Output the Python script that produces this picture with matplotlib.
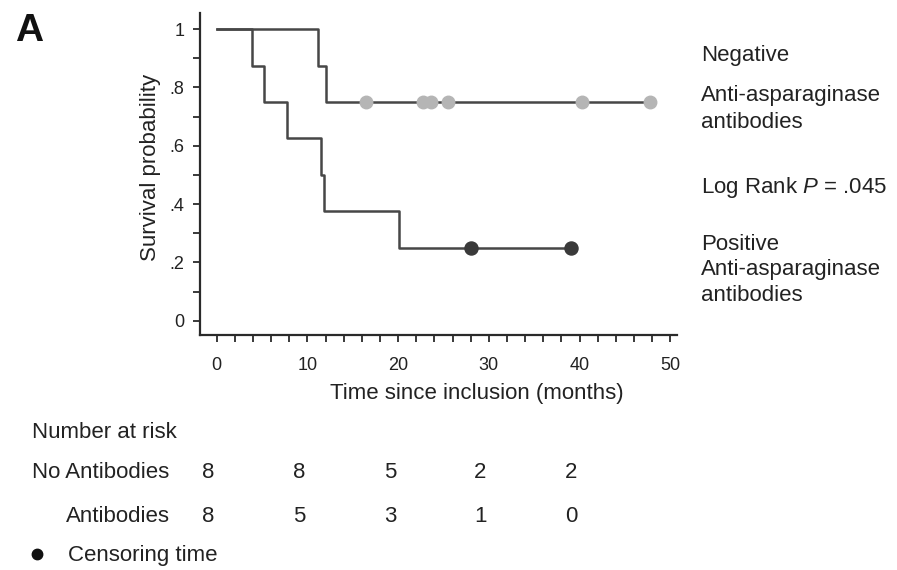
import matplotlib
matplotlib.use("Agg")
import matplotlib.pyplot as plt
import matplotlib.transforms as mtransforms
from matplotlib.ticker import MultipleLocator, FixedLocator

plt.rcParams["font.family"] = ["Liberation Sans", "DejaVu Sans"]
plt.rcParams["mathtext.fontset"] = "custom"
plt.rcParams["mathtext.rm"] = "Liberation Sans"
plt.rcParams["mathtext.it"] = "Liberation Sans:italic"

# Kaplan-Meier step data (months, survival probability)
neg_times = [0, 11.2, 12.1]
neg_surv = [1.0, 0.875, 0.75]
neg_end = 47.8
neg_censor_times = [16.5, 22.7, 23.6, 25.5, 40.3, 47.8]

pos_times = [0, 3.85, 5.2, 7.8, 11.5, 11.8, 20.1]
pos_surv = [1.0, 0.875, 0.75, 0.625, 0.5, 0.375, 0.25]
pos_end = 39.0
pos_censor_times = [28.0, 39.0]

# Number-at-risk table
risk_times = [0, 10, 20, 30, 40]
risk_no_antibodies = [8, 8, 5, 2, 2]
risk_antibodies = [8, 5, 3, 1, 0]

y_ticks = [0, 0.2, 0.4, 0.6, 0.8, 1.0]
y_ticklabels = ["0", ".2", ".4", ".6", ".8", "1"]
x_ticks = [0, 10, 20, 30, 40, 50]

W, H = 897, 570
fig = plt.figure(figsize=(W / 100, H / 100), dpi=100)
ax = fig.add_axes([200 / W, 1 - 335 / H, (676.7 - 200) / W, (335 - 13.3) / H])

line_col = "#474747"
txt_col = "#222222"


def step_xy(times, surv, end):
    xs = list(times) + [end]
    ys = list(surv) + [surv[-1]]
    return xs, ys


xs, ys = step_xy(neg_times, neg_surv, neg_end)
ax.step(xs, ys, where="post", color=line_col, lw=1.8, zorder=2)
ax.plot(neg_censor_times, [neg_surv[-1]] * len(neg_censor_times), "o",
        ms=9, color="#b5b5b5", mec="#b5b5b5", zorder=3)

xs, ys = step_xy(pos_times, pos_surv, pos_end)
ax.step(xs, ys, where="post", color=line_col, lw=1.8, zorder=2)
ax.plot(pos_censor_times, [pos_surv[-1]] * len(pos_censor_times), "o",
        ms=9.4, color="#3a3a3a", mec="#3a3a3a", zorder=3)

ax.set_xlim(-1.84, 50.7)
ax.set_ylim(-0.049, 1.054)
for s in ("top", "right"):
    ax.spines[s].set_visible(False)
for s in ("left", "bottom"):
    ax.spines[s].set_linewidth(1.6)
    ax.spines[s].set_color("#2a2a2a")

ax.xaxis.set_major_locator(FixedLocator(x_ticks))
ax.xaxis.set_minor_locator(MultipleLocator(2))
ax.yaxis.set_major_locator(FixedLocator(y_ticks))
ax.yaxis.set_minor_locator(MultipleLocator(0.1))
ax.set_yticklabels(y_ticklabels)
ax.tick_params(axis="both", which="both", direction="out", length=5,
               width=1.3, color="#2a2a2a", labelcolor=txt_col, labelsize=13)
ax.tick_params(axis="x", which="major", pad=11)
ax.tick_params(axis="y", which="major", pad=6)

fs = 16
fig.text(477 / W, 1 - 394 / H, "Time since inclusion (months)", ha="center",
         va="center", fontsize=fs, color=txt_col)
fig.text(150.7 / W, 1 - 167 / H, "Survival probability", rotation=90,
         ha="center", va="center", fontsize=fs, color=txt_col)
fig.text(29 / W, 1 - 31 / H, "A", ha="center", va="center", fontsize=28,
         fontweight="bold", color="#111111")

# Group annotations on the right
right_x = 701 / W
right_lines = [
    (55, "Negative"),
    (96, "Anti-asparaginase"),
    (123, "antibodies"),
    (188, "Log Rank $P$ = .045"),
    (245, "Positive"),
    (270, "Anti-asparaginase"),
    (296, "antibodies"),
]
for yy, t in right_lines:
    fig.text(right_x, 1 - yy / H, t, ha="left", va="center", fontsize=fs,
             color=txt_col)

# Number at risk table
fig.text(31.7 / W, 1 - 432 / H, "Number at risk", ha="left", va="center",
         fontsize=fs, color=txt_col)
fig.text(31.7 / W, 1 - 472 / H, "No Antibodies", ha="left", va="center",
         fontsize=fs, color=txt_col)
fig.text(65.7 / W, 1 - 516 / H, "Antibodies", ha="left", va="center",
         fontsize=fs, color=txt_col)

shift = mtransforms.ScaledTranslation(-6 / 72, 0, fig.dpi_scale_trans)
col_trans = mtransforms.blended_transform_factory(ax.transData, fig.transFigure) + shift
for t, a, b in zip(risk_times, risk_no_antibodies, risk_antibodies):
    ax.text(t, 1 - 472 / H, str(a), transform=col_trans, ha="center",
            va="center", fontsize=fs, color=txt_col, clip_on=False)
    ax.text(t, 1 - 516 / H, str(b), transform=col_trans, ha="center",
            va="center", fontsize=fs, color=txt_col, clip_on=False)

# Censoring key
fig.lines.append(plt.Line2D([36.7 / W], [1 - 554 / H], marker="o", ms=7.5,
                            color="#111111", transform=fig.transFigure))
fig.text(68 / W, 1 - 556 / H, "Censoring time", ha="left", va="center",
         fontsize=fs, color=txt_col)

fig.savefig("out.png", dpi=100)
